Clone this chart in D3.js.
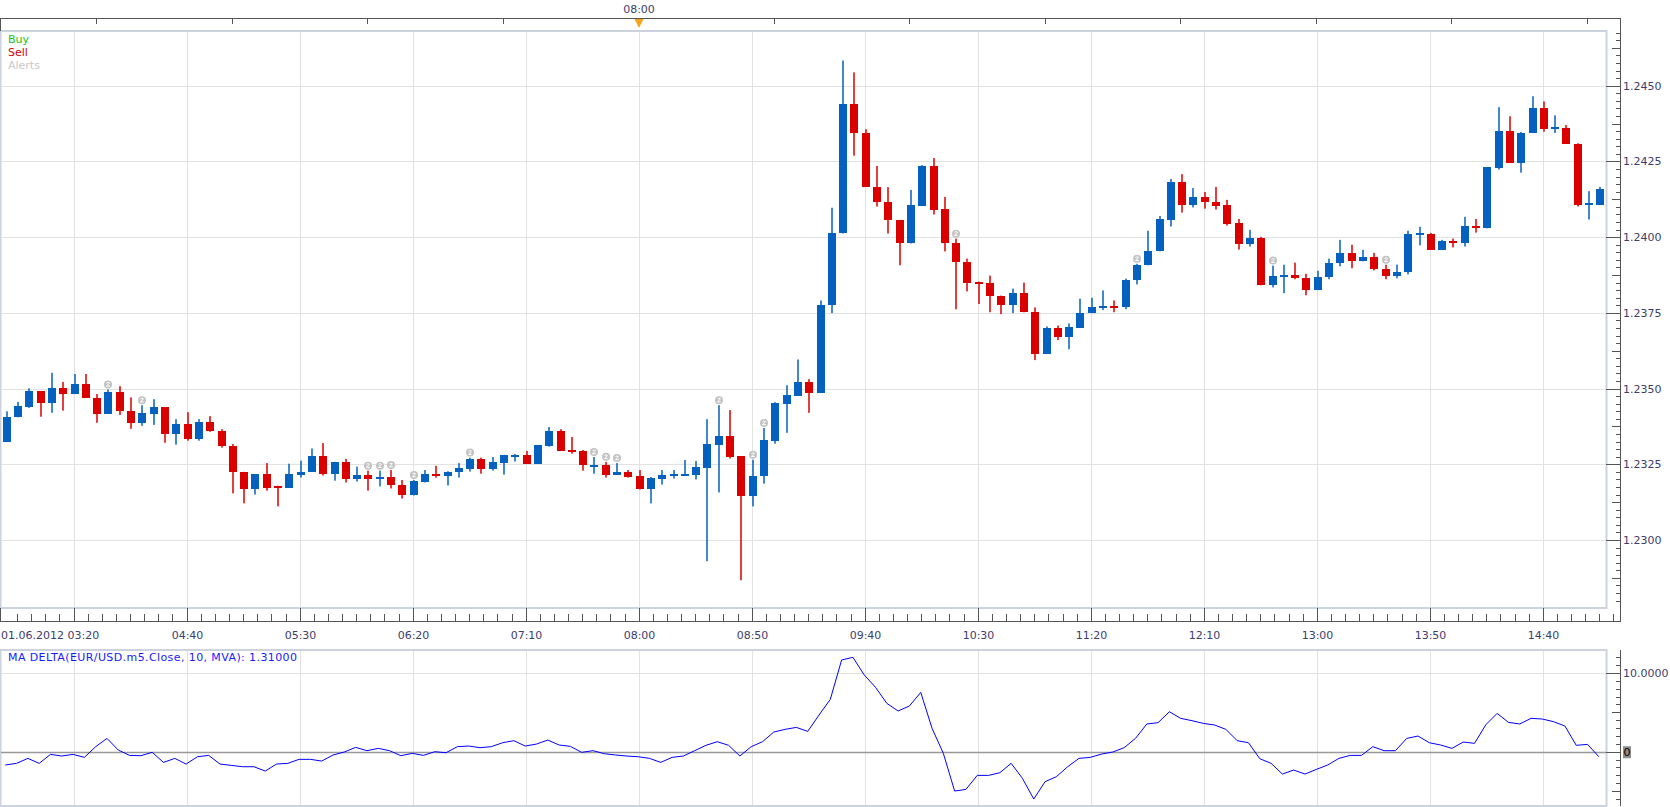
<!DOCTYPE html>
<html lang="en">
<head>
<meta charset="utf-8">
<script src="https://cdn.jsdelivr.net/npm/d3@7"></script>
<style>
  body { margin: 0; background: #fff; }
  svg { display: block; font-family: "DejaVu Sans", Verdana, sans-serif; font-size: 11px; }
</style>
</head>
<body>
<script>
// EUR/USD m5 candles, 01.06.2012
const openP = [1.23325,1.23405,1.23440,1.23491,1.23453,1.23501,1.23482,1.23514,1.23469,1.23417,
  1.23488,1.23427,1.23387,1.23417,1.23439,1.23351,1.23383,1.23334,1.23389,1.23361,
  1.23311,1.23223,1.23170,1.23218,1.23177,1.23173,1.23216,1.23225,1.23277,1.23219,
  1.23258,1.23200,1.23215,1.23203,1.23208,1.23183,1.23147,1.23193,1.23218,1.23212,
  1.23223,1.23236,1.23268,1.23236,1.23255,1.23279,1.23281,1.23251,1.23311,1.23360,
  1.23297,1.23294,1.23246,1.23248,1.23216,1.23225,1.23211,1.23167,1.23203,1.23213,
  1.23216,1.23216,1.23239,1.23315,1.23343,1.23277,1.23144,1.23210,1.23328,1.23450,
  1.23476,1.23521,1.23486,1.23775,1.24012,1.24439,1.24344,1.24165,1.24115,1.24057,
  1.23979,1.24104,1.24235,1.24093,1.23981,1.23919,1.23853,1.23850,1.23807,1.23775,
  1.23817,1.23754,1.23614,1.23699,1.23670,1.23701,1.23749,1.23766,1.23774,1.23768,
  1.23858,1.23907,1.23953,1.24058,1.24182,1.24107,1.24133,1.24115,1.24106,1.24047,
  1.23976,1.23998,1.23841,1.23871,1.23876,1.23866,1.23825,1.23868,1.23914,1.23948,
  1.23920,1.23935,1.23896,1.23871,1.23884,1.24011,1.24011,1.23959,1.23988,1.23979,
  1.24037,1.24029,1.24229,1.24350,1.24246,1.24345,1.24425,1.24358,1.24360,1.24308,
  1.24111,1.24107];
const highP = [1.23425,1.23456,1.23501,1.23491,1.23552,1.23522,1.23548,1.23548,1.23482,1.23497,
  1.23508,1.23471,1.23445,1.23465,1.23439,1.23399,1.23422,1.23399,1.23409,1.23366,
  1.23317,1.23225,1.23218,1.23254,1.23179,1.23252,1.23262,1.23302,1.23320,1.23258,
  1.23268,1.23242,1.23229,1.23229,1.23231,1.23198,1.23198,1.23231,1.23245,1.23227,
  1.23254,1.23272,1.23272,1.23274,1.23281,1.23284,1.23294,1.23314,1.23373,1.23366,
  1.23340,1.23297,1.23274,1.23258,1.23254,1.23231,1.23231,1.23208,1.23231,1.23231,
  1.23264,1.23261,1.23399,1.23445,1.23429,1.23277,1.23265,1.23370,1.23455,1.23511,
  1.23596,1.23531,1.23791,1.24097,1.24583,1.24544,1.24356,1.24235,1.24165,1.24057,
  1.24156,1.24238,1.24261,1.24133,1.23995,1.23929,1.23853,1.23873,1.23807,1.23830,
  1.23850,1.23768,1.23705,1.23708,1.23715,1.23797,1.23800,1.23824,1.23791,1.23863,
  1.23912,1.24021,1.24070,1.24192,1.24208,1.24162,1.24149,1.24166,1.24123,1.24060,
  1.24024,1.24001,1.23906,1.23909,1.23916,1.23879,1.23889,1.23929,1.23991,1.23975,
  1.23958,1.23948,1.23909,1.23909,1.24021,1.24034,1.24014,1.23991,1.23995,1.24067,
  1.24060,1.24231,1.24429,1.24399,1.24347,1.24465,1.24448,1.24402,1.24370,1.24310,
  1.24152,1.24166];
const lowP = [1.23325,1.23405,1.23436,1.23407,1.23420,1.23427,1.23482,1.23469,1.23387,1.23417,
  1.23413,1.23367,1.23377,1.23380,1.23321,1.23315,1.23328,1.23328,1.23357,1.23305,
  1.23154,1.23121,1.23150,1.23163,1.23111,1.23173,1.23206,1.23225,1.23213,1.23196,
  1.23190,1.23193,1.23163,1.23177,1.23170,1.23137,1.23147,1.23190,1.23206,1.23180,
  1.23206,1.23226,1.23219,1.23229,1.23216,1.23259,1.23251,1.23251,1.23308,1.23295,
  1.23285,1.23229,1.23219,1.23206,1.23216,1.23206,1.23167,1.23121,1.23183,1.23203,
  1.23216,1.23200,1.22930,1.23157,1.23269,1.22867,1.23111,1.23186,1.23318,1.23354,
  1.23476,1.23420,1.23486,1.23749,1.24012,1.24269,1.24167,1.24101,1.24012,1.23907,
  1.23979,1.24104,1.24075,1.23953,1.23762,1.23821,1.23779,1.23752,1.23746,1.23749,
  1.23752,1.23594,1.23614,1.23660,1.23630,1.23701,1.23749,1.23759,1.23752,1.23762,
  1.23844,1.23907,1.23953,1.24035,1.24081,1.24098,1.24094,1.24091,1.24038,1.23959,
  1.23969,1.23841,1.23834,1.23815,1.23861,1.23808,1.23825,1.23861,1.23904,1.23897,
  1.23920,1.23890,1.23861,1.23864,1.23877,1.23973,1.23959,1.23959,1.23966,1.23969,
  1.24015,1.24029,1.24223,1.24246,1.24213,1.24345,1.24348,1.24344,1.24308,1.24101,
  1.24058,1.24107];
const closeP = [1.23405,1.23442,1.23491,1.23453,1.23501,1.23482,1.23514,1.23469,1.23417,1.23488,
  1.23427,1.23387,1.23419,1.23439,1.23351,1.23383,1.23334,1.23389,1.23361,1.23311,
  1.23223,1.23170,1.23218,1.23173,1.23173,1.23218,1.23225,1.23277,1.23219,1.23258,
  1.23200,1.23215,1.23203,1.23208,1.23183,1.23147,1.23195,1.23218,1.23212,1.23225,
  1.23238,1.23268,1.23236,1.23258,1.23281,1.23281,1.23251,1.23314,1.23360,1.23295,
  1.23292,1.23246,1.23248,1.23216,1.23225,1.23209,1.23167,1.23205,1.23215,1.23218,
  1.23218,1.23241,1.23317,1.23343,1.23275,1.23144,1.23212,1.23330,1.23452,1.23478,
  1.23521,1.23486,1.23777,1.24014,1.24439,1.24344,1.24167,1.24117,1.24055,1.23979,
  1.24106,1.24235,1.24091,1.23979,1.23917,1.23848,1.23850,1.23805,1.23775,1.23817,
  1.23752,1.23614,1.23699,1.23670,1.23702,1.23751,1.23768,1.23774,1.23768,1.23860,
  1.23909,1.23955,1.24060,1.24182,1.24107,1.24133,1.24117,1.24104,1.24045,1.23976,
  1.23998,1.23841,1.23873,1.23876,1.23864,1.23825,1.23870,1.23916,1.23948,1.23920,
  1.23935,1.23894,1.23871,1.23886,1.24011,1.24014,1.23959,1.23988,1.23979,1.24037,
  1.24029,1.24231,1.24350,1.24246,1.24343,1.24425,1.24358,1.24363,1.24308,1.24107,
  1.24113,1.24159];

// candles with an alert marker above them
const alertBars = [9,12,32,33,34,36,41,52,53,54,63,66,67,84,100,112,122];

// MA DELTA(EUR/USD.m5.Close, 10, MVA)
const maDelta = [-1.69,-1.48,-0.85,-1.48,-0.34,-0.55,-0.34,-0.72,0.64,1.69,
  0.21,-0.47,-0.51,-0.08,-1.36,-0.85,-1.57,-0.64,-0.47,-1.57,
  -1.74,-1.91,-1.91,-2.46,-1.57,-1.48,-0.97,-0.97,-1.19,-0.42,
  -0.04,0.55,0.13,0.42,0.13,-0.51,-0.21,-0.47,0,-0.13,
  0.64,0.72,0.51,0.64,1.14,1.4,0.72,0.97,1.48,0.85,
  0.68,-0.08,0.13,-0.25,-0.42,-0.55,-0.64,-0.85,-1.36,-0.72,
  -0.55,0.13,0.81,1.27,0.81,-0.55,0.64,1.27,2.5,2.84,
  3.09,2.58,4.66,6.65,11.65,11.99,9.75,8.18,6.14,5.17,
  5.81,7.54,2.97,-0.21,-5.0,-4.79,-3.01,-3.01,-2.67,-1.48,
  -3.39,-6.02,-3.81,-3.18,-1.91,-0.85,-0.72,-0.3,-0.04,0.51,
  1.69,3.52,3.69,5.08,4.24,3.94,3.6,3.39,2.84,1.4,
  1.14,-0.89,-1.48,-2.84,-2.33,-2.84,-2.25,-1.69,-0.85,-0.47,
  -0.47,0.64,0.13,0.13,1.69,1.99,1.14,0.85,0.42,1.23,
  1.06,3.43,4.87,3.73,3.52,4.24,4.15,3.81,3.26,0.81,
  0.93,-0.64];

// time labels every 10 bars starting at bar 6
const timeLabels = ["01.06.2012 03:20","04:40","05:30","06:20","07:10","08:00","08:50",
  "09:40","10:30","11:20","12:10","13:00","13:50","14:40"];
const firstLabelBar = 6;
const markerLabel = "08:00";
const priceTicks = [1.2300, 1.2325, 1.2350, 1.2375, 1.2400, 1.2425, 1.2450];
const deltaTicks = [0, 10];
const legendItems = [{name: "Buy", color: "#1cc41c"}, {name: "Sell", color: "#d60000"}, {name: "Alerts", color: "#c8c8c8"}];

const w = 1670, h = 807;
const plot = {left: 0, right: 1606, top: 31, bottom: 608};
const lower = {top: 650, bottom: 806};
const axisX = 1620;
const topAxisY = 18;
const timeAxisY = 621;
const upColor = "#0561c0", downColor = "#da0000";
const gridColor = "#e2e2e2", frameColor = "#ccd3de", axisColor = "#555", labelColor = "#3d3d6e";

const n = openP.length;
const x = d3.scaleLinear().domain([-0.6, n - 0.5]).range([plot.left, plot.right]);
const y = d3.scaleLinear().domain([1.2300, 1.2450]).range([540, 85.7]);
const yl = d3.scaleLinear().domain([0, 10]).range([751.7, 673]);
const gx = i => Math.round(x(i)) - 0.5;   // grid lines sit one pixel left of the candle centre

const svg = d3.select('body').append('svg').attr('width', w).attr('height', h);

// frames
[[plot.top, plot.bottom], [lower.top, lower.bottom]].forEach(([t, b]) => {
  svg.append('rect').attr('x', plot.left + 0.5).attr('y', t).attr('width', plot.right - plot.left)
    .attr('height', b - t).attr('fill', '#fff').attr('stroke', frameColor).attr('stroke-width', 2);
});

// vertical grid
const labelBars = timeLabels.map((d, k) => firstLabelBar + 10 * k);
[[plot.top + 1, plot.bottom - 1], [lower.top + 1, lower.bottom - 1]].forEach(([t, b]) => {
  svg.append('g').selectAll('line').data(labelBars).enter().append('line')
    .attr('x1', gx).attr('x2', gx).attr('y1', t).attr('y2', b)
    .attr('stroke', gridColor);
});

// horizontal grid, main
svg.append('g').selectAll('line').data(priceTicks).enter().append('line')
  .attr('x1', plot.left + 1).attr('x2', plot.right - 1)
  .attr('y1', d => Math.round(y(d)) + 0.5).attr('y2', d => Math.round(y(d)) + 0.5)
  .attr('stroke', gridColor);

// lower panel grid and zero line
svg.append('line').attr('x1', plot.left + 1).attr('x2', plot.right - 1)
  .attr('y1', Math.round(yl(10)) + 0.5).attr('y2', Math.round(yl(10)) + 0.5).attr('stroke', gridColor);
svg.append('line').attr('x1', plot.left + 1).attr('x2', plot.right)
  .attr('y1', Math.round(yl(0)) + 0.5).attr('y2', Math.round(yl(0)) + 0.5).attr('stroke', '#999').attr('stroke-width', 1.3);

// candles
const bars = d3.range(n).map(i => ({i: i, o: openP[i], h: highP[i], l: lowP[i], c: closeP[i]}));
const candles = svg.append('g').selectAll('g').data(bars).enter().append('g')
  .attr('fill', d => d.c >= d.o ? upColor : downColor);
candles.append('rect')
  .attr('x', d => Math.round(x(d.i)) - 0.75).attr('width', 1.5)
  .attr('y', d => y(d.h)).attr('height', d => y(d.l) - y(d.h));
candles.append('rect')
  .attr('x', d => Math.round(x(d.i)) - 4).attr('width', 8)
  .attr('y', d => Math.round(y(Math.max(d.o, d.c))))
  .attr('height', d => Math.max(2, Math.round(y(Math.min(d.o, d.c))) - Math.round(y(Math.max(d.o, d.c)))));

// alert markers
const alerts = svg.append('g').selectAll('g').data(alertBars).enter().append('g')
  .attr('transform', i => `translate(${Math.round(x(i))},${y(highP[i]) - 5})`);
alerts.append('circle').attr('r', 4).attr('fill', '#c2c2c2');
alerts.append('path').attr('d', 'M-1.6,-1.3 Q0,-2.8 1.5,-1.3 L-1.6,1.7 L1.8,1.7')
  .attr('fill', 'none').attr('stroke', '#fff').attr('stroke-width', 1);

// MA delta line
svg.append('path').datum(maDelta)
  .attr('d', d3.line().x((d, i) => x(i) - 1.5).y(d => yl(d)))
  .attr('fill', 'none').attr('stroke', '#0000ff').attr('stroke-width', 1);

// legend and panel title
svg.append('g').selectAll('text').data(legendItems).enter().append('text')
  .attr('x', 8).attr('y', (d, k) => 43 + 13 * k).attr('fill', d => d.color).text(d => d.name);
svg.append('text').attr('x', 8).attr('y', 661).attr('fill', '#1a1aff')
  .attr('textLength', 289).attr('lengthAdjust', 'spacing')
  .text('MA DELTA(EUR/USD.m5.Close, 10, MVA): 1.31000');

// top strip
svg.append('line').attr('x1', 0).attr('x2', axisX + 0.5).attr('y1', topAxisY + 0.5).attr('y2', topAxisY + 0.5).attr('stroke', axisColor);
svg.append('line').attr('x1', 0.5).attr('x2', 0.5).attr('y1', topAxisY).attr('y2', plot.top).attr('stroke', axisColor);
svg.append('g').selectAll('line').data(d3.range(96, axisX, 135.5)).enter().append('line')
  .attr('x1', d => Math.round(d) + 0.5).attr('x2', d => Math.round(d) + 0.5)
  .attr('y1', topAxisY).attr('y2', topAxisY + 6).attr('stroke', axisColor);
const markerBar = firstLabelBar + 10 * timeLabels.indexOf(markerLabel);
const mx = Math.round(x(markerBar)) - 1;
svg.append('path').attr('d', `M${mx - 4.5},${topAxisY + 1}L${mx + 4.5},${topAxisY + 1}L${mx},${topAxisY + 10}Z`).attr('fill', '#f7a31c');
svg.append('text').attr('x', mx).attr('y', 13).attr('text-anchor', 'middle').attr('fill', labelColor).text(markerLabel);

// price axis
svg.append('line').attr('x1', axisX + 0.5).attr('x2', axisX + 0.5).attr('y1', topAxisY).attr('y2', timeAxisY + 1).attr('stroke', axisColor);
const minorPrice = d3.range(-9, 69).map(k => ({k: k, v: 1.2300 + k * 0.00025})).filter(d => y(d.v) > plot.top && y(d.v) < plot.bottom);
svg.append('g').selectAll('line').data(minorPrice).enter().append('line')
  .attr('x1', d => axisX - (d.k % 10 === 0 ? 14 : d.k % 5 === 0 ? 8 : 4)).attr('x2', axisX)
  .attr('y1', d => Math.round(y(d.v)) + 0.5).attr('y2', d => Math.round(y(d.v)) + 0.5).attr('stroke', axisColor);
svg.append('g').selectAll('text').data(priceTicks).enter().append('text')
  .attr('x', axisX + 3).attr('y', d => y(d) + 4).attr('fill', labelColor).text(d => d3.format('.4f')(d));

// time axis
svg.append('line').attr('x1', 0).attr('x2', axisX + 0.5).attr('y1', timeAxisY + 0.5).attr('y2', timeAxisY + 0.5).attr('stroke', axisColor);
const minorTime = d3.range(firstLabelBar - 5, n + 0.5, 1.25).filter(b => gx(b) > 0 && gx(b) < axisX);
svg.append('g').selectAll('line').data(minorTime).enter().append('line')
  .attr('x1', gx).attr('x2', gx)
  .attr('y1', b => (Math.abs((b - firstLabelBar) % 10) < 1e-6 ? plot.bottom : timeAxisY - 7)).attr('y2', timeAxisY)
  .attr('stroke', axisColor);
svg.append('line').attr('x1', 0.5).attr('x2', 0.5).attr('y1', plot.bottom).attr('y2', timeAxisY).attr('stroke', axisColor);
svg.append('g').selectAll('text').data(timeLabels).enter().append('text')
  .attr('x', (d, k) => k === 0 ? 1 : gx(labelBars[k]))
  .attr('y', 639).attr('text-anchor', (d, k) => k === 0 ? 'start' : 'middle')
  .attr('fill', labelColor).text(d => d);

// lower axis
svg.append('line').attr('x1', axisX + 0.5).attr('x2', axisX + 0.5).attr('y1', lower.top).attr('y2', lower.bottom).attr('stroke', axisColor);
svg.append('g').selectAll('line').data(d3.range(-6, 13)).enter().append('line')
  .attr('x1', d => axisX - (d % 10 === 0 ? 14 : d % 5 === 0 ? 8 : 4)).attr('x2', axisX)
  .attr('y1', d => Math.round(yl(d)) + 0.5).attr('y2', d => Math.round(yl(d)) + 0.5).attr('stroke', axisColor);
svg.append('text').attr('x', axisX + 3).attr('y', yl(deltaTicks[1]) + 4).attr('fill', labelColor).text(d3.format('.4f')(deltaTicks[1]));
svg.append('rect').attr('x', axisX + 3).attr('y', yl(deltaTicks[0]) - 5.5).attr('width', 8).attr('height', 12).attr('fill', '#8e8e8e');
svg.append('text').attr('x', axisX + 3.5).attr('y', yl(deltaTicks[0]) + 4).attr('fill', '#000').text(String(deltaTicks[0]));
</script>
</body>
</html>
